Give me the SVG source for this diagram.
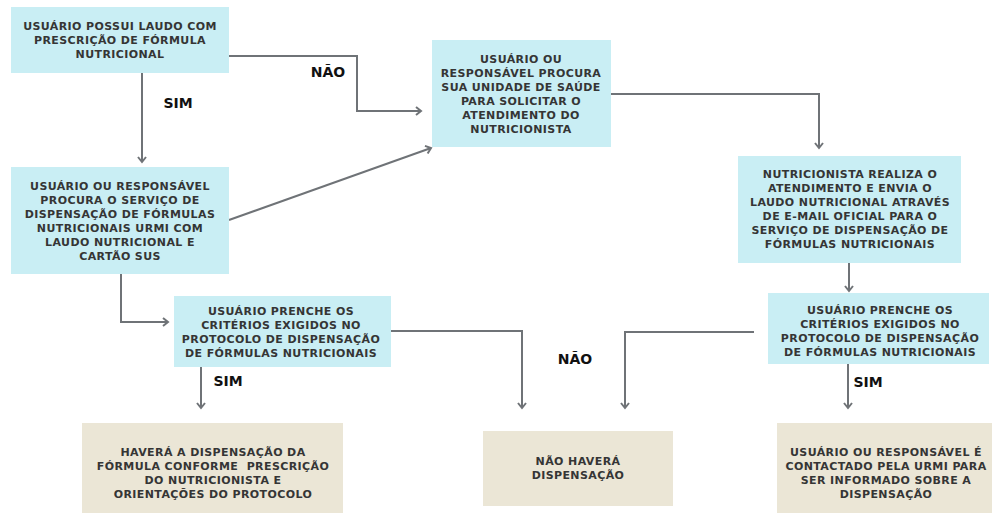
<svg xmlns="http://www.w3.org/2000/svg" width="992" height="516" viewBox="0 0 992 516">
<style>
.blue{fill:#c9eef4}
.beige{fill:#ebe6d6}
.t{font-family:"DejaVu Sans","Liberation Sans",sans-serif;font-weight:bold;font-size:11px;fill:#353535;text-anchor:middle;letter-spacing:0.4px}
.pre{white-space:pre}
.lbl{font-family:"DejaVu Sans","Liberation Sans",sans-serif;font-weight:bold;font-size:14px;fill:#111;text-anchor:middle}
.c{fill:none;stroke:#6f7377;stroke-width:2;marker-end:url(#ah)}
</style>
<defs>
<marker id="ah" markerUnits="userSpaceOnUse" markerWidth="12" markerHeight="12" refX="9" refY="6" orient="auto">
<path d="M4,2 L9,6 L4,10" fill="none" stroke="#6f7377" stroke-width="2"/>
</marker>
</defs>
<rect width="992" height="516" fill="#fff"/>
<g id="connectors">
<path class="c" d="M229,56 H357 V111 H421"/>
<path class="c" d="M142,73 V162"/>
<path class="c" d="M229,220 L431,148"/>
<path class="c" d="M611,94 H819 V148"/>
<path class="c" d="M849,263 V291"/>
<path class="c" d="M121,274 V322 H168"/>
<path class="c" d="M201,367 V408"/>
<path class="c" d="M391,331 H522 V408"/>
<path class="c" d="M754,332 H625 V408"/>
<path class="c" d="M848,364 V408"/>
<text class="lbl" x="328" y="77">NÃO</text>
<text class="lbl" x="178" y="108">SIM</text>
<text class="lbl" x="228" y="386">SIM</text>
<text class="lbl" x="575" y="364">NÃO</text>
<text class="lbl" x="868" y="387">SIM</text>
</g>
<g id="n1">
<rect class="blue" x="11" y="7" width="218" height="66"/>
<text class="t" x="120" y="30">USUÁRIO POSSUI LAUDO COM</text>
<text class="t" x="120" y="44">PRESCRIÇÃO DE FÓRMULA</text>
<text class="t" x="120" y="58">NUTRICIONAL</text>
</g>
<g id="n2">
<rect class="blue" x="11" y="167" width="218" height="107"/>
<text class="t" x="120" y="190">USUÁRIO OU RESPONSÁVEL</text>
<text class="t" x="120" y="204">PROCURA O SERVIÇO DE</text>
<text class="t" x="120" y="218">DISPENSAÇÃO DE FÓRMULAS</text>
<text class="t" x="120" y="232">NUTRICIONAIS URMI COM</text>
<text class="t" x="120" y="246">LAUDO NUTRICIONAL E</text>
<text class="t" x="120" y="260">CARTÃO SUS</text>
</g>
<g id="n3">
<rect class="blue" x="432" y="40" width="179" height="107"/>
<text class="t" x="521" y="63">USUÁRIO OU</text>
<text class="t" x="521" y="77">RESPONSÁVEL PROCURA</text>
<text class="t" x="521" y="91">SUA UNIDADE DE SAÚDE</text>
<text class="t" x="521" y="105">PARA SOLICITAR O</text>
<text class="t" x="521" y="119">ATENDIMENTO DO</text>
<text class="t" x="521" y="133">NUTRICIONISTA</text>
</g>
<g id="n4">
<rect class="blue" x="738" y="156" width="223" height="107"/>
<text class="t" x="850" y="178">NUTRICIONISTA REALIZA O</text>
<text class="t" x="850" y="192">ATENDIMENTO E ENVIA O</text>
<text class="t" x="850" y="206">LAUDO NUTRICIONAL ATRAVÉS</text>
<text class="t" x="850" y="220">DE E-MAIL OFICIAL PARA O</text>
<text class="t" x="850" y="234">SERVIÇO DE DISPENSAÇÃO DE</text>
<text class="t" x="850" y="248">FÓRMULAS NUTRICIONAIS</text>
</g>
<g id="n5">
<rect class="blue" x="174" y="296" width="217" height="71"/>
<text class="t" x="281" y="315">USUÁRIO PRENCHE OS</text>
<text class="t" x="281" y="329">CRITÉRIOS EXIGIDOS NO</text>
<text class="t" x="281" y="343">PROTOCOLO DE DISPENSAÇÃO</text>
<text class="t" x="281" y="357">DE FÓRMULAS NUTRICIONAIS</text>
</g>
<g id="n6">
<rect class="blue" x="768" y="293" width="221" height="71"/>
<text class="t" x="880" y="314">USUÁRIO PRENCHE OS</text>
<text class="t" x="880" y="328">CRITÉRIOS EXIGIDOS NO</text>
<text class="t" x="880" y="342">PROTOCOLO DE DISPENSAÇÃO</text>
<text class="t" x="880" y="356">DE FÓRMULAS NUTRICIONAIS</text>
</g>
<g id="n7">
<rect class="beige" x="82" y="423" width="261" height="90"/>
<text class="t" x="213" y="456">HAVERÁ A DISPENSAÇÃO DA</text>
<text class="t pre" x="213" y="470">FÓRMULA CONFORME  PRESCRIÇÃO</text>
<text class="t" x="213" y="484">DO NUTRICIONISTA E</text>
<text class="t" x="213" y="498">ORIENTAÇÕES DO PROTOCOLO</text>
</g>
<g id="n8">
<rect class="beige" x="483" y="431" width="190" height="75"/>
<text class="t" x="578" y="465">NÃO HAVERÁ</text>
<text class="t" x="578" y="479">DISPENSAÇÃO</text>
</g>
<g id="n9">
<rect class="beige" x="777" y="423" width="215" height="90"/>
<text class="t" x="886" y="456">USUÁRIO OU RESPONSÁVEL É</text>
<text class="t" x="886" y="470">CONTACTADO PELA URMI PARA</text>
<text class="t" x="886" y="484">SER INFORMADO SOBRE A</text>
<text class="t" x="886" y="498">DISPENSAÇÃO</text>
</g>
</svg>
